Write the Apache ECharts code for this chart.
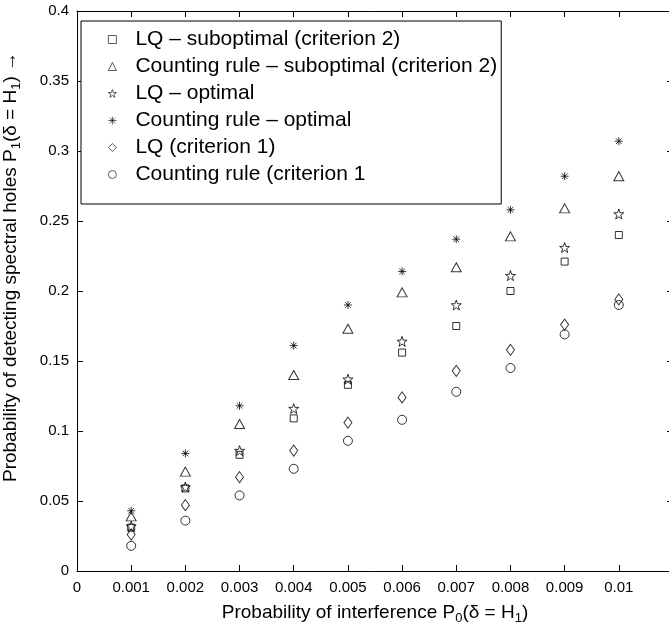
<!DOCTYPE html>
<html>
<head>
<meta charset="utf-8">
<script src="https://cdn.jsdelivr.net/npm/echarts@6/dist/echarts.min.js"></script>
<style>
html,body{margin:0;padding:0;background:#fff;}
#chart{width:669px;height:627px;}
</style>
</head>
<body>
<div id="chart"></div>
<script>
// ---- data ----
var xValues = [0.001, 0.002, 0.003, 0.004, 0.005, 0.006, 0.007, 0.008, 0.009, 0.010];
var lqSubopt      = [0.031, 0.059, 0.083, 0.109, 0.133, 0.156, 0.175, 0.200, 0.221, 0.240];
var countSubopt   = [0.039, 0.071, 0.105, 0.140, 0.173, 0.199, 0.217, 0.239, 0.259, 0.282];
var lqOpt         = [0.032, 0.060, 0.086, 0.116, 0.137, 0.164, 0.190, 0.211, 0.231, 0.255];
var countOpt      = [0.043, 0.084, 0.118, 0.161, 0.190, 0.214, 0.237, 0.258, 0.282, 0.307];
var lqCrit1       = [0.026, 0.047, 0.067, 0.086, 0.106, 0.124, 0.143, 0.158, 0.176, 0.194];
var countCrit1    = [0.018, 0.036, 0.054, 0.073, 0.093, 0.108, 0.128, 0.145, 0.169, 0.190];
var seriesNames = [
  'LQ \u2013 suboptimal (criterion 2)',
  'Counting rule \u2013 suboptimal (criterion 2)',
  'LQ \u2013 optimal',
  'Counting rule \u2013 optimal',
  'LQ (criterion 1)',
  'Counting rule (criterion 1'
];
var xTicks = {min: 0, max: 0.011, step: 0.001};
var yTicks = {min: 0, max: 0.4, step: 0.05};

// ---- styles ----
var FONT = 'Liberation Sans';
var starPath = 'path://M50,0L61.8,33.8L97.6,34.5L69,56.2L79.4,90.5L50,70L20.6,90.5L31,56.2L2.4,34.5L38.2,33.8Z';
var asteriskPath = 'path://M5,0L5,10M0,5L10,5M1.5,1.5L8.5,8.5M1.5,8.5L8.5,1.5';
var symbols = [
  {symbol: 'rect', size: [7, 7]},
  {symbol: 'triangle', size: [10, 9]},
  {symbol: starPath, size: [10, 10]},
  {symbol: asteriskPath, size: [8, 8]},
  {symbol: 'diamond', size: [8, 11]},
  {symbol: 'circle', size: [9, 9]}
];
var allData = [lqSubopt, countSubopt, lqOpt, countOpt, lqCrit1, countCrit1];
var hollow = {color: 'rgba(0,0,0,0)', borderColor: '#000', borderWidth: 1};

var series = allData.map(function (vals, i) {
  return {
    name: seriesNames[i],
    type: 'scatter',
    symbol: symbols[i].symbol,
    symbolSize: symbols[i].size,
    itemStyle: hollow,
    data: xValues.map(function (x, k) { return [x, vals[k]]; })
  };
});

function fmtX(v) {
  if (v > 0.0105) return '';
  return v === 0 ? '0' : String(+v.toFixed(3));
}
function fmtY(v) {
  return v === 0 ? '0' : String(+v.toFixed(2));
}

var baseAxis = {
  type: 'value',
  axisLine: {show: true, onZero: false, lineStyle: {color: '#000', width: 1}},
  axisTick: {show: true, inside: true, length: 6, lineStyle: {color: '#000', width: 1}},
  splitLine: {show: false}
};

var subRich = {
  t: {fontFamily: FONT, fontSize: 19, color: '#000'},
  s: {fontFamily: FONT, fontSize: 13, color: '#000', padding: [11, 0, 0, 0]}
};

var chart = echarts.init(document.getElementById('chart'), null, {renderer: 'canvas'});
chart.setOption({
  animation: false,
  backgroundColor: '#fff',
  grid: {left: 77, top: 11, width: 596, height: 560, containLabel: false, outerBoundsMode: 'none'},
  xAxis: [
    Object.assign({}, baseAxis, {
      position: 'bottom', min: xTicks.min, max: xTicks.max, interval: xTicks.step,
      axisLabel: {formatter: fmtX, fontFamily: FONT, fontSize: 15, color: '#000', margin: 9},
      name: '{t|Probability of interference P}{s|0}{t|(\u03b4 = H}{s|1}{t|)}',
      nameLocation: 'middle', nameGap: 30,
      nameTextStyle: {rich: subRich}
    }),
    Object.assign({}, baseAxis, {
      position: 'top', min: xTicks.min, max: xTicks.max, interval: xTicks.step,
      axisLabel: {show: false}
    })
  ],
  yAxis: [
    Object.assign({}, baseAxis, {
      position: 'left', min: yTicks.min, max: yTicks.max, interval: yTicks.step,
      axisLabel: {formatter: fmtY, fontFamily: FONT, fontSize: 15, color: '#000', margin: 8},
      name: '{t|Probability of detecting spectral holes P}{s|1}{t|(\u03b4 = H}{s|1}{t|) \u2192}',
      nameLocation: 'middle', nameGap: 54, nameRotate: 90,
      nameTextStyle: {rich: subRich, padding: [0, 0, 0, 48]}
    }),
    Object.assign({}, baseAxis, {
      position: 'right', min: yTicks.min, max: yTicks.max, interval: yTicks.step,
      axisLabel: {show: false}
    })
  ],
  legend: {
    show: true,
    orient: 'vertical',
    left: 81, top: 21,
    data: seriesNames.map(function (n, i) {
      return {name: n, itemStyle: {color: 'rgba(0,0,0,0)', borderColor: '#000', borderWidth: 0.8}};
    }),
    backgroundColor: '#fff',
    borderColor: '#000', borderWidth: 1,
    padding: [8, 4, 19, 27],
    itemWidth: 8, itemHeight: 8, itemGap: 6,
    textStyle: {fontFamily: FONT, fontSize: 21, lineHeight: 20, color: '#000', padding: [0, 0, 0, 14]},
    selectedMode: false
  },
  series: series
});
</script>
</body>
</html>
